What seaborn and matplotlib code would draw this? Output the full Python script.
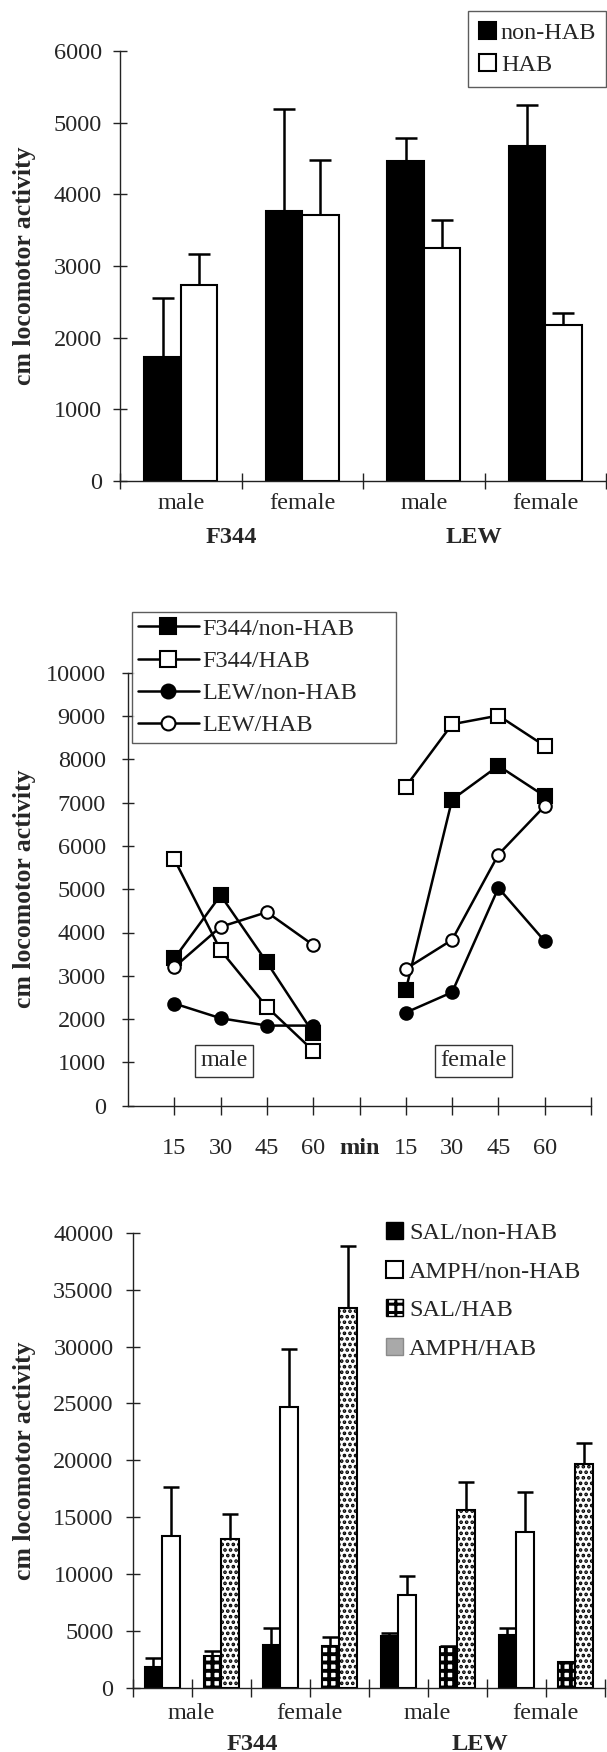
import numpy as np
import pandas as pd
import matplotlib
matplotlib.use("Agg")
import matplotlib.pyplot as plt
import seaborn as sns
from matplotlib.lines import Line2D
from matplotlib.patches import Patch

# ---- data ----
strains = ["F344", "LEW"]
sexes = ["male", "female"]
housing = ["non-HAB", "HAB"]
drugs = ["SAL", "AMPH"]

# panel 1: locomotor activity (F344 male, F344 female, LEW male, LEW female)
nonhab_mean = [1730, 3770, 4470, 4670]
nonhab_sem = [830, 1415, 320, 580]
hab_mean = [2730, 3710, 3250, 2180]
hab_sem = [440, 775, 385, 165]

# panel 2: time course, 15 min bins
times = [15, 30, 45, 60]
f344_nonhab_male = [3400, 4860, 3310, 1680]
f344_nonhab_female = [2670, 7070, 7850, 7150]
f344_hab_male = [5690, 3590, 2280, 1270]
f344_hab_female = [7370, 8810, 9010, 8310]
lew_nonhab_male = [2360, 2020, 1850, 1850]
lew_nonhab_female = [2150, 2620, 5030, 3800]
lew_hab_male = [3200, 4130, 4470, 3710]
lew_hab_female = [3160, 3830, 5800, 6920]

# panel 3: saline vs amphetamine (F344 male, F344 female, LEW male, LEW female)
sal_nonhab_mean = [1820, 3800, 4540, 4650]
sal_nonhab_sem = [820, 1440, 280, 580]
amph_nonhab_mean = [13320, 24650, 8160, 13670]
amph_nonhab_sem = [4340, 5090, 1720, 3540]
sal_hab_mean = [2850, 3720, 3580, 2270]
sal_hab_sem = [400, 760, 100, 0]
amph_hab_mean = [13080, 33400, 15630, 19720]
amph_hab_sem = [2200, 5400, 2510, 1830]

# ---- style ----
sns.set_style("ticks")
plt.rcParams["font.family"] = ["Liberation Serif", "DejaVu Serif"]
plt.rcParams["hatch.linewidth"] = 2.2
FS = 17.5
INK = "#222222"

W, H = 607, 1752
fig = plt.figure(figsize=(W / 100, H / 100), dpi=100)


def axes_px(left, top, right, bottom):
    return fig.add_axes([left / W, 1 - bottom / H, (right - left) / W, (bottom - top) / H])


def style_axes(ax, xlen, ylen, ypad):
    sns.despine(ax=ax)
    for s in ("left", "bottom"):
        ax.spines[s].set_linewidth(1.0)
        ax.spines[s].set_color(INK)
    ax.tick_params(axis="y", direction="inout", length=ylen, width=1.0, color=INK,
                   labelsize=FS, pad=ypad)
    ax.tick_params(axis="x", which="major", direction="inout", length=xlen, width=1.0,
                   color=INK, labelsize=FS)
    ax.set(xlabel="", ylabel="")


def ylabel(ax, left, width):
    ax.set_ylabel("cm locomotor activity", fontsize=18.5, fontweight="bold")
    ax.yaxis.set_label_coords((36 - left) / width, 0.5)


def add_errbars(ax, bars, means, sems, capsize):
    xs = [b.get_x() + b.get_width() / 2 for b in bars]
    ax.errorbar(xs, means, yerr=[np.zeros(len(sems)), sems], fmt="none", ecolor="black",
                elinewidth=1.8, capsize=capsize, capthick=1.8, zorder=1)


# ================= panel 1 =================
ax1 = axes_px(120, 51, 606, 481)
slots1 = [f"{st} {sx}" for st in strains for sx in sexes]
df1 = pd.DataFrame({
    "slot": slots1 * 2,
    "housing": np.repeat(housing, len(slots1)),
    "activity": nonhab_mean + hab_mean,
})
sns.barplot(data=df1, x="slot", y="activity", hue="housing", order=slots1, hue_order=housing,
            palette={"non-HAB": "black", "HAB": "white"}, saturation=1, edgecolor="black",
            linewidth=1.5, width=0.6, errorbar=None, legend=False, ax=ax1)
bars1 = list(ax1.containers)
add_errbars(ax1, bars1[0], nonhab_mean, nonhab_sem, 8)
add_errbars(ax1, bars1[1], hab_mean, hab_sem, 8)
for c in bars1:
    for b in c:
        b.set_zorder(2)

style_axes(ax1, 11.5, 10, 8)
ax1.set_xlim(-0.5, 3.5)
ax1.set_ylim(0, 6000)
ax1.set_yticks(range(0, 6001, 1000))
ax1.set_xticks(np.arange(-0.5, 4, 1.0), [""] * 5)
ax1.set_xticks(range(4), sexes * 2, minor=True)
ax1.tick_params(axis="x", which="minor", length=0, pad=8.5, labelsize=FS)
for x, st in zip([0.42, 2.41], strains):
    ax1.text(x, -0.145, st, transform=ax1.get_xaxis_transform(), ha="center",
             va="baseline", fontsize=FS, fontweight="bold")
ylabel(ax1, 120, 486)

leg1 = ax1.legend([Patch(fc=c, ec="black", lw=1.5) for c in ("black", "white")], housing,
                  loc="upper left", bbox_to_anchor=(468 / W, 1 - 11 / H, 138 / W, 0),
                  bbox_transform=fig.transFigure, mode="expand", fontsize=FS, frameon=True,
                  fancybox=False, edgecolor="#333333", handlelength=0.7, handleheight=0.7,
                  handletextpad=0.2, borderpad=0.45, labelspacing=0.4, borderaxespad=0)
leg1.get_frame().set_linewidth(1.0)

# ================= panel 2 =================
ax2 = axes_px(128, 672.7, 591, 1105.7)
series2 = {
    "F344/non-HAB": (f344_nonhab_male, f344_nonhab_female),
    "F344/HAB": (f344_hab_male, f344_hab_female),
    "LEW/non-HAB": (lew_nonhab_male, lew_nonhab_female),
    "LEW/HAB": (lew_hab_male, lew_hab_female),
}
marker_style = {
    "F344/non-HAB": ("s", "black", 10),
    "F344/HAB": ("s", "white", 10),
    "LEW/non-HAB": ("o", "black", 9),
    "LEW/HAB": ("o", "white", 9),
}
rows = []
for grp, (m_vals, f_vals) in series2.items():
    for sex, vals, shift in (("male", m_vals, 0), ("female", f_vals, len(times) + 1)):
        for i, (t, v) in enumerate(zip(times, vals)):
            rows.append(dict(group=grp, sex=sex, minute=t, pos=i + 1 + shift, activity=v))
df2 = pd.DataFrame(rows)

for (grp, sex), d in df2.groupby(["group", "sex"], sort=False):
    mk, fc, ms = marker_style[grp]
    sns.lineplot(data=d, x="pos", y="activity", ax=ax2, color="black", linewidth=1.8,
                 marker=mk, markersize=ms, markerfacecolor=fc, markeredgecolor="black",
                 markeredgewidth=1.5, estimator=None, sort=False)

style_axes(ax2, 12.5, 8, 12)
ax2.set_xlim(0, 2 * len(times) + 2)
ax2.set_ylim(0, 10000)
ax2.set_yticks(range(0, 10001, 1000))
tick_lab = [str(t) for t in times] + ["min"] + [str(t) for t in times] + [""]
ax2.set_xticks(range(1, 2 * len(times) + 3), tick_lab)
ax2.tick_params(axis="x", pad=17)
ax2.get_xticklabels()[len(times)].set_fontweight("bold")
for x, txt in ((2.07, "male"), (7.47, "female")):
    ax2.text(x, 1040, txt, ha="center", va="center", fontsize=FS,
             bbox=dict(boxstyle="square,pad=0.22", fc="white", ec="#333333", lw=1.0))
ylabel(ax2, 128, 463)

h2 = [Line2D([], [], color="black", lw=1.8, marker=marker_style[g][0],
             markersize=marker_style[g][2] + 1, markerfacecolor=marker_style[g][1],
             markeredgecolor="black", markeredgewidth=1.5) for g in series2]
leg2 = ax2.legend(h2, list(series2), loc="upper left",
                  bbox_to_anchor=(131.7 / W, 1 - 611.7 / H, 264 / W, 0),
                  bbox_transform=fig.transFigure, mode="expand", fontsize=FS, frameon=True,
                  fancybox=False, edgecolor="#333333", handlelength=2.5, handletextpad=0.15,
                  borderpad=0.25, labelspacing=0.42, borderaxespad=0)
leg2.get_frame().set_linewidth(1.0)

# ================= panel 3 =================
ax3 = axes_px(132.7, 1232.7, 604.7, 1688)
series3 = {
    ("SAL", "non-HAB"): (sal_nonhab_mean, sal_nonhab_sem),
    ("AMPH", "non-HAB"): (amph_nonhab_mean, amph_nonhab_sem),
    ("SAL", "HAB"): (sal_hab_mean, sal_hab_sem),
    ("AMPH", "HAB"): (amph_hab_mean, amph_hab_sem),
}
groups = [(st, sx) for st in strains for sx in sexes]
rows = []
for i, (st, sx) in enumerate(groups):
    for h in housing:
        for dr in drugs:
            mean, sem = series3[(dr, h)]
            rows.append(dict(slot=f"{st} {sx} {h}", drug=dr, housing=h,
                             activity=mean[i], sem=sem[i]))
df3 = pd.DataFrame(rows)
slots3 = list(dict.fromkeys(df3["slot"]))

sns.barplot(data=df3, x="slot", y="activity", hue="drug", order=slots3, hue_order=drugs,
            palette={"SAL": "black", "AMPH": "white"}, saturation=1, edgecolor="black",
            linewidth=1.5, width=0.59, errorbar=None, legend=False, ax=ax3)
bars3 = list(ax3.containers)
patterns = {("SAL", "HAB"): "++", ("AMPH", "HAB"): "..."}
for dr, cont in zip(drugs, bars3):
    sub = df3[df3.drug == dr].set_index("slot").loc[slots3]
    for b, h in zip(cont, sub["housing"]):
        b.set_zorder(2)
        if (dr, h) in patterns:
            b.set_facecolor("white")
            b.set_hatch(patterns[(dr, h)])
            if hasattr(b, "set_hatch_linewidth"):
                b.set_hatch_linewidth(2.8 if dr == "SAL" else 1.8)
    add_errbars(ax3, cont, sub["activity"].values, sub["sem"].values, 5.8)

style_axes(ax3, 12.7, 9.6, 9)
ax3.set_xlim(-0.5, len(slots3) - 0.5)
ax3.set_ylim(0, 40000)
ax3.set_yticks(range(0, 40001, 5000))
# category labels sit on the boundary ticks between non-HAB and HAB pairs
bound_lab = [""] + [s for sx in sexes * 2 for s in (sx, "")]
ax3.set_xticks(np.arange(-0.5, len(slots3), 1.0), bound_lab)
ax3.tick_params(axis="x", pad=4.7)
for x, st in zip([1.52, 5.38], strains):
    ax3.text(x, -0.136, st, transform=ax3.get_xaxis_transform(), ha="center",
             va="baseline", fontsize=FS, fontweight="bold")
ylabel(ax3, 132.7, 472)

h3 = [Patch(fc="black", ec="black", lw=1.0),
      Patch(fc="white", ec="black", lw=1.5),
      Patch(fc="white", ec="black", lw=1.0, hatch="++"),
      Patch(fc="#a9a9a9", ec="#8a8a8a", lw=1.0)]
lab3 = [f"{dr}/{h}" for h in housing for dr in drugs]
ax3.legend(h3, lab3, loc="upper left", bbox_to_anchor=(386 / W, 1 - 1222 / H),
           bbox_transform=fig.transFigure, fontsize=FS, frameon=False, handlelength=0.7,
           handleheight=0.7, handletextpad=0.25, borderpad=0, labelspacing=0.68,
           borderaxespad=0)

fig.savefig("out.png", dpi=100)
